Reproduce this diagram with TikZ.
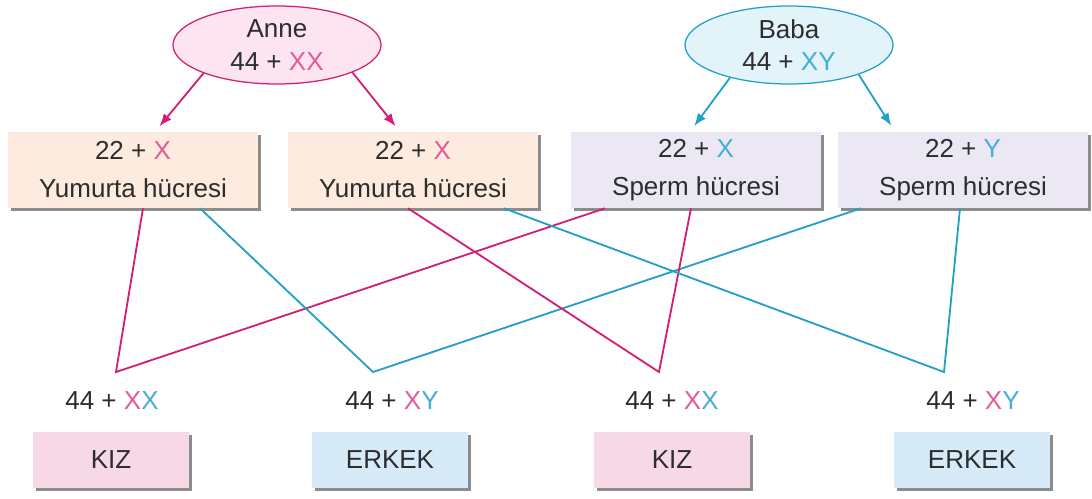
\documentclass[tikz,border=0pt]{standalone}
\usepackage{fontspec}
\setmainfont{Liberation Sans}
\usepackage{xcolor}
\usepackage{tikz}
\usetikzlibrary{shapes.geometric, arrows.meta, calc, shadows}
\definecolor{annepink}{RGB}{212, 30, 118}
\definecolor{babablue}{RGB}{35, 160, 200}
\definecolor{xpink}{RGB}{228, 90, 155}
\definecolor{yblue}{RGB}{70, 172, 218}
\definecolor{textgray}{RGB}{45, 45, 45}
\definecolor{annebg}{RGB}{252, 228, 240}
\definecolor{bababg}{RGB}{226, 243, 250}
\definecolor{eggbg}{RGB}{252, 235, 222}
\definecolor{spermbg}{RGB}{236, 232, 243}
\definecolor{kizbg}{RGB}{247, 216, 230}
\definecolor{erkekbg}{RGB}{214, 234, 248}
\newcommand{\pinkX}{\textcolor{xpink}{X}}
\newcommand{\blueX}{\textcolor{yblue}{X}}
\newcommand{\blueY}{\textcolor{yblue}{Y}}
\tikzstyle{parent} = [
    ellipse,
    draw,
    line width=0.9pt,
    minimum width=5.2cm,
    minimum height=1.95cm,
    inner sep=0pt,
    align=center,
    text=textgray,
    font=\fontsize{18.5}{23}\selectfont
]
\tikzstyle{cell} = [
    rectangle,
    minimum width=6.25cm,
    minimum height=1.9cm,
    inner sep=0pt,
    align=center,
    text=textgray,
    font=\fontsize{18.5}{27}\selectfont,
    drop shadow={shadow xshift=2pt, shadow yshift=-2pt, fill=black!45, opacity=1}
]
\tikzstyle{child} = [
    rectangle,
    minimum width=3.9cm,
    minimum height=1.4cm,
    inner sep=0pt,
    text=textgray,
    font=\fontsize{18.5}{22}\selectfont,
    drop shadow={shadow xshift=2pt, shadow yshift=-2pt, fill=black!45, opacity=1}
]
\tikzstyle{karyo} = [
    text=textgray,
    font=\fontsize{18.5}{22}\selectfont
]
\tikzstyle{pinkline} = [line width=1.3pt, color=annepink]
\tikzstyle{blueline} = [line width=1.3pt, color=babablue]
\tikzstyle{pinkarrow} = [pinkline, -{Latex[length=9pt, width=7pt]}, shorten >=5pt]
\tikzstyle{bluearrow} = [blueline, -{Latex[length=9pt, width=7pt]}, shorten >=5pt]

\begin{document}
\begin{tikzpicture}[x=0.025cm, y=-0.025cm]
        \useasboundingbox (0, 0) rectangle (1092, 499);

        % Parents
        \node[parent, fill=annebg, draw=annepink] (anne) at (277, 45) {Anne\\44 + \pinkX\pinkX};
        \node[parent, fill=bababg, draw=babablue] (baba) at (789, 45) {Baba\\44 + \blueX\blueY};

        % Gametes
        \node[cell, fill=eggbg] (egg1) at (133, 170) {22 + \pinkX\\Yumurta hücresi};
        \node[cell, fill=eggbg] (egg2) at (413, 170) {22 + \pinkX\\Yumurta hücresi};
        \node[cell, fill=spermbg] (sperm1) at (696, 170) {22 + \blueX\\Sperm hücresi};
        \node[cell, fill=spermbg] (sperm2) at (963, 170) {22 + \blueY\\Sperm hücresi};

        \draw[pinkarrow] (anne.201) -- ($(egg1.north)+(22, 0)$);
        \draw[pinkarrow] (anne.340) -- ($(egg2.north)+(-13, 0)$);
        \draw[bluearrow] (baba.209) -- ($(sperm1.north)+(-6, 0)$);
        \draw[bluearrow] (baba.337) -- ($(sperm2.north)+(-68, 0)$);

        % Fertilisation
        \coordinate (v1) at (116, 372);
        \coordinate (v2) at (373, 372);
        \coordinate (v3) at (659, 372);
        \coordinate (v4) at (944, 372);

        \draw[pinkline] ($(egg1.south)+(10, 0)$) -- (v1) -- ($(sperm1.south)+(-91, 0)$);
        \draw[blueline] ($(egg1.south)+(67, 0)$) -- (v2) -- ($(sperm2.south)+(-102, 0)$);
        \draw[pinkline] ($(egg2.south)+(-5, 0)$) -- (v3) -- ($(sperm1.south)+(-5, 0)$);
        \draw[blueline] ($(egg2.south)+(91, 0)$) -- (v4) -- ($(sperm2.south)+(-3, 0)$);

        % Children
        \node[karyo] (k1) at (112, 401) {44 + \pinkX\blueX};
        \node[karyo] (k2) at (392, 401) {44 + \pinkX\blueY};
        \node[karyo] (k3) at (672, 401) {44 + \pinkX\blueX};
        \node[karyo] (k4) at (973, 401) {44 + \pinkX\blueY};

        \node[child, fill=kizbg] (kiz1) at (111, 460) {KIZ};
        \node[child, fill=erkekbg] (erkek1) at (390, 460) {ERKEK};
        \node[child, fill=kizbg] (kiz2) at (672, 460) {KIZ};
        \node[child, fill=erkekbg] (erkek2) at (972, 460) {ERKEK};
    \end{tikzpicture}
\end{document}
